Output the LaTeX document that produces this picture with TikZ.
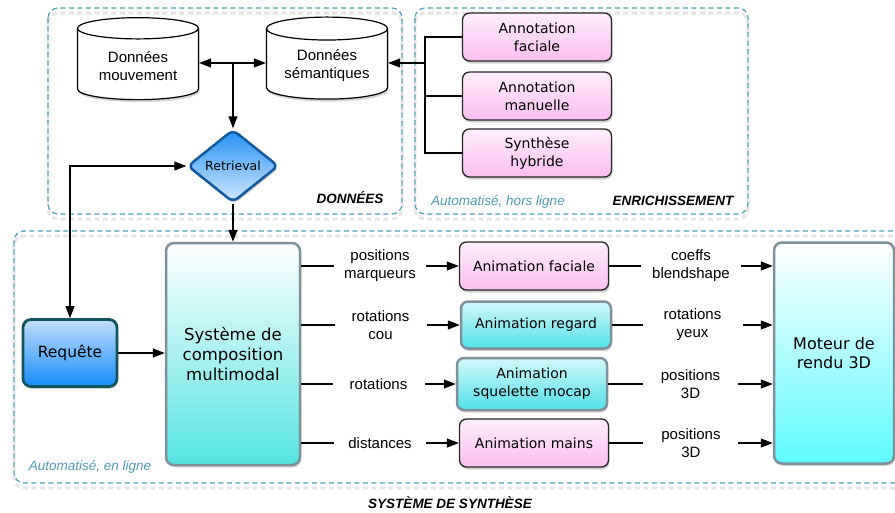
\documentclass[tikz,border=0pt]{standalone}
\usepackage{fontspec}
\setmainfont{Liberation Sans}
\newfontfamily\boitefont{DejaVu Sans}
\usepackage{tikz}
\usetikzlibrary{shapes,shadows,arrows.meta,positioning}
\definecolor{zonebleu}{RGB}{75,160,180}
\definecolor{texteauto}{RGB}{75,155,180}
\definecolor{rosehaut}{RGB}{255,238,252}
\definecolor{rosebas}{RGB}{250,190,240}
\definecolor{cyanhaut}{RGB}{210,248,250}
\definecolor{cyanbas}{RGB}{80,225,232}
\definecolor{bordgris}{RGB}{125,145,155}
\definecolor{compobas}{RGB}{85,228,225}
\definecolor{moteurbas}{RGB}{95,250,255}
\definecolor{reqhaut}{RGB}{195,222,250}
\definecolor{reqbas}{RGB}{20,140,250}
\definecolor{reqbord}{RGB}{15,85,95}
\definecolor{loshaut}{RGB}{35,145,245}
\definecolor{losbas}{RGB}{210,232,252}
\definecolor{losbord}{RGB}{20,90,160}
\tikzstyle{zone}=[draw=zonebleu,line width=1.2pt,dash pattern=on 5pt off 3.5pt,rounded corners=10pt]
\tikzstyle{ombrezone}=[draw=black!10,line width=3pt,dash pattern=on 5pt off 3.5pt,rounded corners=10pt]
\tikzstyle{ombre}=[drop shadow={opacity=0.35,shadow xshift=1pt,shadow yshift=-2.5pt}]
\tikzstyle{cyl}=[cylinder,shape border rotate=90,aspect=0.25,draw,line width=1.2pt,fill=white,ombre,minimum width=121pt,minimum height=82pt,align=center,font=\fontsize{15}{18}\selectfont]
\tikzstyle{rose}=[rounded corners=7pt,draw=black!85,line width=1.3pt,top color=rosehaut,bottom color=rosebas,ombre,minimum width=149pt,minimum height=48pt,inner sep=2pt,align=center,font=\boitefont\fontsize{14}{18}\selectfont]
\tikzstyle{cyan}=[rounded corners=7pt,draw=bordgris,line width=2.5pt,top color=cyanhaut,bottom color=cyanbas,ombre,minimum width=150pt,minimum height=47pt,inner sep=2pt,align=center,font=\boitefont\fontsize{14}{18}\selectfont]
\tikzstyle{compo}=[rounded corners=8pt,draw=bordgris,line width=2.5pt,top color=white,bottom color=compobas,ombre,minimum width=134pt,minimum height=222pt,align=center,font=\boitefont\fontsize{16.5}{20}\selectfont]
\tikzstyle{moteur}=[rounded corners=8pt,draw=bordgris,line width=2.5pt,top color=white,bottom color=moteurbas,ombre,minimum width=120pt,minimum height=221pt,align=center,font=\boitefont\fontsize{16}{19}\selectfont]
\tikzstyle{requete}=[rounded corners=8pt,draw=reqbord,line width=2.8pt,top color=reqhaut,bottom color=reqbas,ombre,minimum width=94pt,minimum height=67pt,font=\boitefont\fontsize{15.5}{18}\selectfont]
\tikzstyle{losange}=[diamond,aspect=1.25,rounded corners=6pt,draw=losbord,line width=2.5pt,top color=loshaut,bottom color=losbas,ombre,minimum width=91pt,minimum height=73pt,inner sep=0pt,font=\boitefont\fontsize{12.5}{15}\selectfont]
\tikzstyle{etiq}=[fill=white,align=center,minimum width=92pt,inner ysep=1pt,font=\fontsize{15}{18}\selectfont]
\tikzstyle{titre}=[font=\bfseries\itshape\fontsize{13.5}{16}\selectfont]
\tikzstyle{auto}=[text=texteauto,font=\itshape\fontsize{13.5}{16}\selectfont]
\tikzstyle{trait}=[line width=1.1pt]
\tikzstyle{fleche}=[line width=1.1pt,-{Triangle[length=12pt,width=9pt]}]
\tikzstyle{flechedouble}=[line width=1.1pt,{Triangle[length=12pt,width=9pt]}-{Triangle[length=12pt,width=9pt]}]

\begin{document}
\begin{tikzpicture}[x=1pt,y=-1pt]
  \useasboundingbox (0,0) rectangle (895,512);
  \clip (0,0) rectangle (895,512);
  % zones
  \draw[ombrezone] (48,13) rectangle (402,219);
  \draw[ombrezone] (415,13) rectangle (748,219);
  \draw[ombrezone] (14,236) rectangle (910,488);
  \draw[zone] (48,8) rectangle (402,214);
  \draw[zone] (415,8) rectangle (748,214);
  \draw[zone] (14,231) rectangle (910,483);
  \node[titre] (tdon) at (350,198) {DONNÉES};
  \node[titre] (tenr) at (673,201) {ENRICHISSEMENT};
  \node[auto] (ahors) at (498,202) {Automatisé, hors ligne};
  \node[auto] (aen) at (90,467) {Automatisé, en ligne};
  \node[titre] (tsyn) at (450,503) {SYSTÈME DE SYNTHÈSE};

  % donnees
  \node[cyl] (mouv) at (138,66) {Données\\mouvement};
  \node[cyl] (sem) at (327,66) {Données\\sémantiques};
  \node[losange] (retr) at (233,166) {Retrieval};
  \coordinate (jonc) at (233,63);
  \draw[fleche] (jonc) -- (jonc -| mouv.east);
  \draw[fleche] (jonc) -- (jonc -| sem.west);
  \draw[fleche] (jonc) -- (retr);

  % enrichissement
  \node[rose] (afac) at (537,37) {Annotation\\faciale};
  \node[rose] (aman) at (537,96) {Annotation\\manuelle};
  \node[rose] (shyb) at (537,153) {Synthèse\\hybride};
  \coordinate (col) at (425,63);
  \draw[trait] (afac.west) -| (col) |- (shyb.west);
  \draw[trait] (aman.west) -- (aman.west -| col);
  \draw[fleche] (col) -- (col -| sem.east);

  % synthese
  \node[requete] (req) at (70,353) {Requête};
  \node[compo] (comp) at (233,354) {Système de\\composition\\multimodal};
  \node[rose] (anfac) at (534,266) {Animation faciale};
  \node[cyan] (anreg) at (536,325) {Animation regard};
  \node[cyan,minimum height=52pt] (ansq) at (532,384) {Animation\\squelette mocap};
  \node[rose] (anmain) at (534,443) {Animation mains};
  \node[moteur] (mot) at (834,353) {Moteur de\\rendu 3D};
  \draw[flechedouble] (req.north) |- (retr.west);
  \draw[fleche] (retr.south) -- (comp.north);
  \draw[fleche] (req.east) -- (req.east -| comp.west);

  \draw[fleche] (comp.east |- anfac) -- node[etiq] {positions\\marqueurs} (anfac.west);
  \draw[fleche] (comp.east |- anreg) -- node[etiq] {rotations\\cou} (anreg.west);
  \draw[fleche] (comp.east |- ansq) -- node[etiq] {rotations} (ansq.west);
  \draw[fleche] (comp.east |- anmain) -- node[etiq] {distances} (anmain.west);
  \draw[fleche] (anfac.east) -- node[etiq,minimum width=100pt] {coeffs\\blendshape} (anfac.east -| mot.west);
  \draw[fleche] (anreg.east) -- node[etiq,minimum width=100pt] {rotations\\yeux} (anreg.east -| mot.west);
  \draw[fleche] (ansq.east) -- node[etiq,minimum width=95pt] {positions\\3D} (ansq.east -| mot.west);
  \draw[fleche] (anmain.east) -- node[etiq,minimum width=95pt] {positions\\3D} (anmain.east -| mot.west);
\end{tikzpicture}
\end{document}
